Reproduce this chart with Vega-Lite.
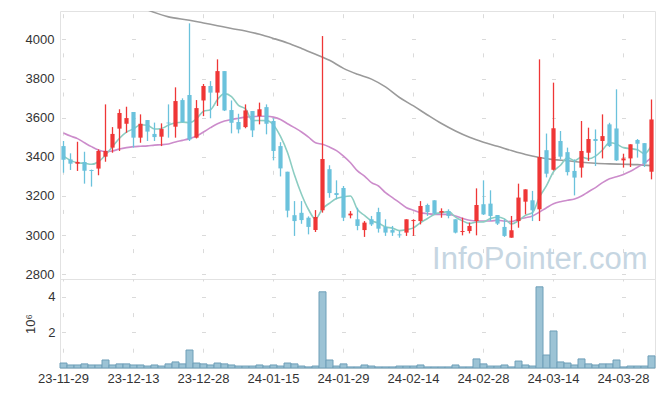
{
  "$schema": "https://vega.github.io/schema/vega-lite/v6.json",
  "background": "white",
  "padding": {"left": 24, "top": 10, "right": 9, "bottom": 5},
  "spacing": 0,
  "bounds": "flush",
  "config": {
    "view": {"stroke": "#e2e2e2", "strokeWidth": 1},
    "axis": {"labelFont": "Liberation Sans", "labelFontSize": 13, "labelColor": "#333333", "domain": false, "ticks": false, "grid": false, "titleFont": "Liberation Sans", "titleFontSize": 13, "titleFontWeight": "normal", "titleColor": "#333333"}
  },
  "datasets": {
    "k": [
      {"d": "23-11-29", "o": 3455, "h": 3481, "l": 3319, "c": 3385, "v": 280000, "m5": 3404, "m20": 3522},
      {"d": "23-11-30", "o": 3387, "h": 3418, "l": 3333, "c": 3365, "v": 170000, "m5": 3382, "m20": 3506},
      {"d": "23-12-01", "o": 3365, "h": 3477, "l": 3328, "c": 3374, "v": 170000, "m5": 3370, "m20": 3493},
      {"d": "23-12-04", "o": 3374, "h": 3426, "l": 3263, "c": 3329, "v": 230000, "m5": 3367, "m20": 3472},
      {"d": "23-12-05", "o": 3333, "h": 3335, "l": 3248, "c": 3328, "v": 170000, "m5": 3362, "m20": 3452},
      {"d": "23-12-06", "o": 3340, "h": 3438, "l": 3306, "c": 3430, "v": 170000, "m5": 3375, "m20": 3435},
      {"d": "23-12-07", "o": 3401, "h": 3668, "l": 3375, "c": 3430, "v": 450000, "m5": 3410, "m20": 3427},
      {"d": "23-12-08", "o": 3447, "h": 3552, "l": 3421, "c": 3517, "v": 170000, "m5": 3452, "m20": 3430},
      {"d": "23-12-11", "o": 3544, "h": 3643, "l": 3430, "c": 3624, "v": 230000, "m5": 3495, "m20": 3440},
      {"d": "23-12-12", "o": 3569, "h": 3656, "l": 3523, "c": 3598, "v": 230000, "m5": 3526, "m20": 3447},
      {"d": "23-12-13", "o": 3629, "h": 3629, "l": 3447, "c": 3498, "v": 170000, "m5": 3543, "m20": 3452},
      {"d": "23-12-14", "o": 3498, "h": 3617, "l": 3472, "c": 3569, "v": 170000, "m5": 3564, "m20": 3454},
      {"d": "23-12-15", "o": 3588, "h": 3588, "l": 3481, "c": 3529, "v": 110000, "m5": 3561, "m20": 3456},
      {"d": "23-12-18", "o": 3517, "h": 3575, "l": 3481, "c": 3501, "v": 170000, "m5": 3542, "m20": 3460},
      {"d": "23-12-19", "o": 3503, "h": 3571, "l": 3455, "c": 3542, "v": 110000, "m5": 3545, "m20": 3462},
      {"d": "23-12-20", "o": 3575, "h": 3668, "l": 3498, "c": 3571, "v": 230000, "m5": 3562, "m20": 3466},
      {"d": "23-12-21", "o": 3554, "h": 3755, "l": 3498, "c": 3685, "v": 340000, "m5": 3574, "m20": 3476},
      {"d": "23-12-22", "o": 3690, "h": 3699, "l": 3575, "c": 3578, "v": 230000, "m5": 3577, "m20": 3484},
      {"d": "23-12-26", "o": 3716, "h": 4082, "l": 3481, "c": 3489, "v": 1010000, "m5": 3575, "m20": 3493},
      {"d": "23-12-27", "o": 3498, "h": 3690, "l": 3494, "c": 3649, "v": 280000, "m5": 3594, "m20": 3506},
      {"d": "23-12-28", "o": 3688, "h": 3772, "l": 3608, "c": 3762, "v": 230000, "m5": 3633, "m20": 3527},
      {"d": "24-01-02", "o": 3762, "h": 3787, "l": 3597, "c": 3728, "v": 170000, "m5": 3641, "m20": 3549},
      {"d": "24-01-03", "o": 3728, "h": 3898, "l": 3660, "c": 3838, "v": 280000, "m5": 3693, "m20": 3569},
      {"d": "24-01-04", "o": 3838, "h": 3838, "l": 3634, "c": 3637, "v": 230000, "m5": 3723, "m20": 3583},
      {"d": "24-01-05", "o": 3639, "h": 3688, "l": 3520, "c": 3574, "v": 170000, "m5": 3708, "m20": 3591},
      {"d": "24-01-08", "o": 3578, "h": 3620, "l": 3520, "c": 3540, "v": 110000, "m5": 3663, "m20": 3597},
      {"d": "24-01-09", "o": 3552, "h": 3668, "l": 3546, "c": 3637, "v": 110000, "m5": 3645, "m20": 3603},
      {"d": "24-01-10", "o": 3634, "h": 3634, "l": 3501, "c": 3535, "v": 110000, "m5": 3585, "m20": 3605},
      {"d": "24-01-11", "o": 3608, "h": 3677, "l": 3566, "c": 3643, "v": 170000, "m5": 3586, "m20": 3607},
      {"d": "24-01-12", "o": 3654, "h": 3668, "l": 3515, "c": 3569, "v": 110000, "m5": 3585, "m20": 3607},
      {"d": "24-01-15", "o": 3583, "h": 3597, "l": 3382, "c": 3430, "v": 170000, "m5": 3563, "m20": 3603},
      {"d": "24-01-16", "o": 3455, "h": 3475, "l": 3300, "c": 3341, "v": 110000, "m5": 3504, "m20": 3591},
      {"d": "24-01-17", "o": 3324, "h": 3324, "l": 3091, "c": 3125, "v": 280000, "m5": 3422, "m20": 3569},
      {"d": "24-01-18", "o": 3102, "h": 3174, "l": 2996, "c": 3072, "v": 230000, "m5": 3307, "m20": 3549},
      {"d": "24-01-19", "o": 3114, "h": 3174, "l": 3058, "c": 3077, "v": 110000, "m5": 3209, "m20": 3527},
      {"d": "24-01-22", "o": 3089, "h": 3096, "l": 3004, "c": 3042, "v": 60000, "m5": 3131, "m20": 3501},
      {"d": "24-01-23", "o": 3026, "h": 3128, "l": 3016, "c": 3093, "v": 110000, "m5": 3082, "m20": 3472},
      {"d": "24-01-24", "o": 3127, "h": 4017, "l": 3115, "c": 3389, "v": 4280000, "m5": 3135, "m20": 3464},
      {"d": "24-01-25", "o": 3337, "h": 3357, "l": 3191, "c": 3215, "v": 450000, "m5": 3163, "m20": 3450},
      {"d": "24-01-26", "o": 3215, "h": 3280, "l": 3183, "c": 3205, "v": 110000, "m5": 3187, "m20": 3432},
      {"d": "24-01-29", "o": 3241, "h": 3251, "l": 3072, "c": 3089, "v": 230000, "m5": 3196, "m20": 3404},
      {"d": "24-01-30", "o": 3101, "h": 3123, "l": 3086, "c": 3110, "v": 60000, "m5": 3200, "m20": 3370},
      {"d": "24-01-31", "o": 3081, "h": 3140, "l": 3025, "c": 3047, "v": 60000, "m5": 3131, "m20": 3328},
      {"d": "24-02-01", "o": 3026, "h": 3072, "l": 2991, "c": 3064, "v": 170000, "m5": 3101, "m20": 3302},
      {"d": "24-02-02", "o": 3081, "h": 3098, "l": 3047, "c": 3055, "v": 110000, "m5": 3073, "m20": 3268},
      {"d": "24-02-05", "o": 3118, "h": 3140, "l": 3013, "c": 3033, "v": 60000, "m5": 3062, "m20": 3251},
      {"d": "24-02-06", "o": 3042, "h": 3081, "l": 2996, "c": 3013, "v": 60000, "m5": 3042, "m20": 3217},
      {"d": "24-02-07", "o": 3026, "h": 3047, "l": 2996, "c": 3013, "v": 60000, "m5": 3036, "m20": 3192},
      {"d": "24-02-08", "o": 3004, "h": 3021, "l": 2987, "c": 2999, "v": 110000, "m5": 3023, "m20": 3166},
      {"d": "24-02-13", "o": 3013, "h": 3081, "l": 2996, "c": 3081, "v": 110000, "m5": 3028, "m20": 3140},
      {"d": "24-02-14", "o": 3072, "h": 3081, "l": 2996, "c": 3077, "v": 110000, "m5": 3037, "m20": 3127},
      {"d": "24-02-15", "o": 3072, "h": 3174, "l": 3055, "c": 3149, "v": 170000, "m5": 3064, "m20": 3115},
      {"d": "24-02-16", "o": 3154, "h": 3161, "l": 3098, "c": 3118, "v": 60000, "m5": 3085, "m20": 3110},
      {"d": "24-02-19", "o": 3178, "h": 3178, "l": 3106, "c": 3110, "v": 60000, "m5": 3107, "m20": 3106},
      {"d": "24-02-20", "o": 3115, "h": 3137, "l": 3089, "c": 3123, "v": 60000, "m5": 3115, "m20": 3106},
      {"d": "24-02-21", "o": 3123, "h": 3132, "l": 3086, "c": 3098, "v": 60000, "m5": 3120, "m20": 3106},
      {"d": "24-02-22", "o": 3081, "h": 3081, "l": 3009, "c": 3013, "v": 170000, "m5": 3092, "m20": 3098},
      {"d": "24-02-23", "o": 3016, "h": 3089, "l": 2999, "c": 3021, "v": 60000, "m5": 3073, "m20": 3086},
      {"d": "24-02-26", "o": 3021, "h": 3064, "l": 3009, "c": 3047, "v": 60000, "m5": 3060, "m20": 3076},
      {"d": "24-02-27", "o": 3072, "h": 3239, "l": 2999, "c": 3154, "v": 510000, "m5": 3067, "m20": 3072},
      {"d": "24-02-28", "o": 3158, "h": 3280, "l": 3103, "c": 3106, "v": 230000, "m5": 3068, "m20": 3072},
      {"d": "24-02-29", "o": 3161, "h": 3229, "l": 3072, "c": 3098, "v": 110000, "m5": 3085, "m20": 3072},
      {"d": "24-03-04", "o": 3103, "h": 3103, "l": 3052, "c": 3059, "v": 110000, "m5": 3093, "m20": 3076},
      {"d": "24-03-05", "o": 3042, "h": 3081, "l": 2991, "c": 2996, "v": 170000, "m5": 3083, "m20": 3072},
      {"d": "24-03-06", "o": 2987, "h": 3098, "l": 2987, "c": 3025, "v": 60000, "m5": 3057, "m20": 3069},
      {"d": "24-03-07", "o": 3072, "h": 3263, "l": 3038, "c": 3192, "v": 390000, "m5": 3074, "m20": 3081},
      {"d": "24-03-08", "o": 3171, "h": 3234, "l": 3106, "c": 3234, "v": 170000, "m5": 3101, "m20": 3089},
      {"d": "24-03-11", "o": 3178, "h": 3226, "l": 3072, "c": 3127, "v": 110000, "m5": 3115, "m20": 3098},
      {"d": "24-03-12", "o": 3132, "h": 3898, "l": 3072, "c": 3399, "v": 4560000, "m5": 3195, "m20": 3118},
      {"d": "24-03-13", "o": 3434, "h": 3519, "l": 3295, "c": 3314, "v": 730000, "m5": 3253, "m20": 3140},
      {"d": "24-03-14", "o": 3334, "h": 3779, "l": 3330, "c": 3546, "v": 2080000, "m5": 3324, "m20": 3160},
      {"d": "24-03-15", "o": 3481, "h": 3532, "l": 3387, "c": 3401, "v": 340000, "m5": 3357, "m20": 3171},
      {"d": "24-03-18", "o": 3424, "h": 3447, "l": 3305, "c": 3322, "v": 280000, "m5": 3396, "m20": 3178},
      {"d": "24-03-19", "o": 3328, "h": 3387, "l": 3203, "c": 3294, "v": 170000, "m5": 3380, "m20": 3185},
      {"d": "24-03-20", "o": 3345, "h": 3583, "l": 3294, "c": 3430, "v": 510000, "m5": 3399, "m20": 3200},
      {"d": "24-03-21", "o": 3421, "h": 3549, "l": 3379, "c": 3491, "v": 230000, "m5": 3390, "m20": 3222},
      {"d": "24-03-22", "o": 3491, "h": 3540, "l": 3353, "c": 3481, "v": 170000, "m5": 3404, "m20": 3243},
      {"d": "24-03-25", "o": 3481, "h": 3617, "l": 3392, "c": 3506, "v": 230000, "m5": 3435, "m20": 3268},
      {"d": "24-03-26", "o": 3566, "h": 3574, "l": 3450, "c": 3455, "v": 230000, "m5": 3472, "m20": 3288},
      {"d": "24-03-27", "o": 3545, "h": 3745, "l": 3379, "c": 3382, "v": 450000, "m5": 3465, "m20": 3298},
      {"d": "24-03-28", "o": 3382, "h": 3416, "l": 3345, "c": 3392, "v": 60000, "m5": 3447, "m20": 3310},
      {"d": "24-03-29", "o": 3392, "h": 3464, "l": 3348, "c": 3464, "v": 110000, "m5": 3442, "m20": 3326},
      {"d": "24-04-01", "o": 3486, "h": 3491, "l": 3396, "c": 3467, "v": 110000, "m5": 3436, "m20": 3347},
      {"d": "24-04-02", "o": 3470, "h": 3470, "l": 3348, "c": 3365, "v": 110000, "m5": 3416, "m20": 3368},
      {"d": "24-04-03", "o": 3324, "h": 3693, "l": 3285, "c": 3591, "v": 680000, "m5": 3458, "m20": 3396}
    ],
    "g": [
      {"d": "23-12-13", "m60": 4178},
      {"d": "23-12-15", "m60": 4150},
      {"d": "23-12-20", "m60": 4115},
      {"d": "23-12-26", "m60": 4098},
      {"d": "23-12-28", "m60": 4084},
      {"d": "24-01-03", "m60": 4070},
      {"d": "24-01-05", "m60": 4056},
      {"d": "24-01-09", "m60": 4043},
      {"d": "24-01-11", "m60": 4026},
      {"d": "24-01-15", "m60": 4005},
      {"d": "24-01-17", "m60": 3982},
      {"d": "24-01-19", "m60": 3954},
      {"d": "24-01-23", "m60": 3924},
      {"d": "24-01-25", "m60": 3893},
      {"d": "24-01-29", "m60": 3852},
      {"d": "24-01-31", "m60": 3822},
      {"d": "24-02-02", "m60": 3797},
      {"d": "24-02-06", "m60": 3757},
      {"d": "24-02-08", "m60": 3703},
      {"d": "24-02-14", "m60": 3660},
      {"d": "24-02-16", "m60": 3614},
      {"d": "24-02-20", "m60": 3570},
      {"d": "24-02-22", "m60": 3532},
      {"d": "24-02-26", "m60": 3500},
      {"d": "24-02-28", "m60": 3475},
      {"d": "24-03-04", "m60": 3454},
      {"d": "24-03-06", "m60": 3432},
      {"d": "24-03-08", "m60": 3412},
      {"d": "24-03-12", "m60": 3397},
      {"d": "24-03-14", "m60": 3386},
      {"d": "24-03-18", "m60": 3380},
      {"d": "24-03-20", "m60": 3372},
      {"d": "24-03-22", "m60": 3367},
      {"d": "24-03-26", "m60": 3364},
      {"d": "24-03-28", "m60": 3362},
      {"d": "24-04-01", "m60": 3360},
      {"d": "24-04-03", "m60": 3355}
    ],
    "wm": [
      {"d": "24-04-02", "p": 2827, "t": "InfoPointer.com"}
    ]
  },
  "vconcat": [
    {
      "width": 595,
      "height": 268,
      "layer": [
        {
          "data": {"name": "g"},
          "mark": {"type": "line", "color": "#9a9a9a", "strokeWidth": 1.6, "interpolate": "monotone", "clip": true},
          "encoding": {
            "x": {"field": "d", "type": "nominal", "scale": {"type": "band", "paddingInner": 0, "paddingOuter": 0}, "axis": {"values": ["23-11-29", "23-12-13", "23-12-28", "24-01-15", "24-01-29", "24-02-14", "24-02-28", "24-03-14", "24-03-28"], "labels": false, "title": null, "grid": true, "bandPosition": 0.5, "gridColor": "#dadada", "gridWidth": 1, "gridDash": [4, 35.15], "gridDashOffset": 36.45}},
            "y": {"field": "m60", "type": "quantitative", "scale": {"domain": [2776, 4145], "nice": false, "zero": false}, "axis": {"values": [2800, 3000, 3200, 3400, 3600, 3800, 4000], "format": "d", "labelPadding": 6, "title": null, "grid": true, "gridColor": "#dadada", "gridWidth": 1, "gridDash": [4, 66], "gridDashOffset": 68.5}}
          }
        },
        {
          "data": {"name": "k"},
          "mark": {"type": "line", "color": "#cc8ccb", "strokeWidth": 1.6, "interpolate": "monotone"},
          "encoding": {
            "x": {"field": "d", "type": "nominal"},
            "y": {"field": "m20", "type": "quantitative"}
          }
        },
        {
          "data": {"name": "k"},
          "mark": {"type": "line", "color": "#8ccdc2", "strokeWidth": 1.6, "interpolate": "monotone"},
          "encoding": {
            "x": {"field": "d", "type": "nominal"},
            "y": {"field": "m5", "type": "quantitative"}
          }
        },
        {
          "data": {"name": "k"},
          "mark": {"type": "rule", "strokeWidth": 1.3},
          "encoding": {
            "x": {"field": "d", "type": "nominal"},
            "y": {"field": "l", "type": "quantitative"},
            "y2": {"field": "h"},
            "color": {"condition": {"test": "datum.c >= datum.o", "value": "#ef3636"}, "value": "#6bc2dc"}
          }
        },
        {
          "data": {"name": "k"},
          "mark": {"type": "bar", "width": {"band": 0.6}, "minBandSize": 1.5},
          "encoding": {
            "x": {"field": "d", "type": "nominal"},
            "y": {"field": "o", "type": "quantitative"},
            "y2": {"field": "c"},
            "color": {"condition": {"test": "datum.c >= datum.o", "value": "#ef3636"}, "value": "#6bc2dc"}
          }
        },
        {
          "data": {"name": "wm"},
          "mark": {"type": "text", "align": "right", "baseline": "alphabetic", "font": "Liberation Sans", "fontSize": 31, "color": "#c6d6e2", "dx": 3},
          "encoding": {
            "x": {"field": "d", "type": "nominal"},
            "y": {"field": "p", "type": "quantitative"},
            "text": {"field": "t"}
          }
        }
      ]
    },
    {
      "width": 595,
      "height": 89,
      "data": {"name": "k"},
      "mark": {"type": "bar", "fill": "#9cc3d5", "stroke": "#6e9fb8", "strokeWidth": 1},
      "encoding": {
        "x": {"field": "d", "type": "nominal", "scale": {"type": "band", "paddingInner": 0, "paddingOuter": 0}, "axis": {"values": ["23-11-29", "23-12-13", "23-12-28", "24-01-15", "24-01-29", "24-02-14", "24-02-28", "24-03-14", "24-03-28"], "labelAngle": 0, "labelPadding": 4, "title": null, "grid": true, "bandPosition": 0.5, "gridColor": "#dadada", "gridWidth": 1, "gridDash": [4, 31.6], "gridDashOffset": 2}},
        "y": {"field": "v", "type": "quantitative", "scale": {"domain": [0, 5000000], "nice": false}, "axis": {"values": [2000000, 4000000], "labelExpr": "datum.value / 1000000", "labelPadding": 5, "title": "10⁶", "titlePadding": 10, "grid": true, "gridColor": "#dadada", "gridWidth": 1, "gridDash": [4, 66], "gridDashOffset": 68.5}}
      }
    }
  ]
}
